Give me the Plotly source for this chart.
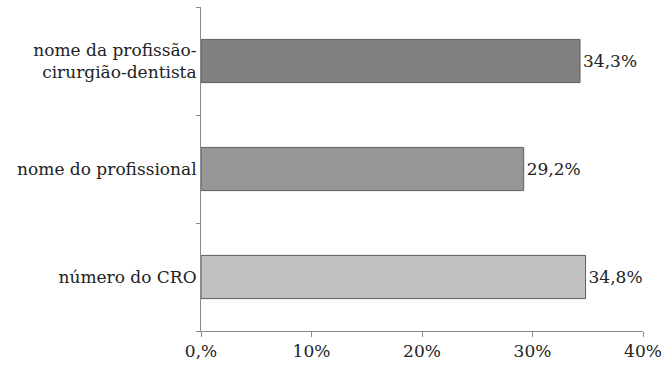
import plotly.graph_objects as go

# Categories listed bottom to top, as plotted on the vertical axis
categories = ["número do CRO", "nome do profissional", "nome da profissão-<br>cirurgião-dentista"]
values = [34.8, 29.2, 34.3]
value_labels = ["34,8%", "29,2%", "34,3%"]
bar_colors = ["#c0c0c0", "#969696", "#808080"]

x_ticks = [0, 10, 20, 30, 40]
x_tick_labels = ["0,%", "10%", "20%", "30%", "40%"]

font_family = "DejaVu Serif"
font_size = 17

fig = go.Figure(
    go.Bar(
        x=values,
        y=categories,
        orientation="h",
        width=0.4,
        marker=dict(color=bar_colors, line=dict(color="#5e5e5e", width=1)),
        text=value_labels,
        textposition="outside",
        cliponaxis=False,
        textfont=dict(family=font_family, size=font_size, color="#222222"),
    )
)

fig.update_layout(
    width=669,
    height=372,
    margin=dict(l=201, r=23, t=7, b=41),
    paper_bgcolor="white",
    plot_bgcolor="white",
    showlegend=False,
    font=dict(family=font_family, size=font_size, color="#222222"),
)

fig.update_xaxes(
    range=[0, 40],
    tickvals=x_ticks,
    ticktext=x_tick_labels,
    showgrid=False,
    zeroline=False,
    showline=True,
    linecolor="#8a8a8a",
    linewidth=1,
    ticks="outside",
    ticklen=5,
    tickcolor="#8a8a8a",
    tickfont=dict(family=font_family, size=font_size, color="#222222"),
)

fig.update_yaxes(
    type="category",
    categoryorder="array",
    categoryarray=categories,
    range=[-0.5, 2.5],
    tickson="boundaries",
    showgrid=False,
    showline=True,
    linecolor="#8a8a8a",
    linewidth=1,
    ticks="outside",
    ticklen=4,
    tickcolor="#8a8a8a",
    tickfont=dict(family=font_family, size=font_size, color="#222222"),
)

fig.write_html("out.html")
